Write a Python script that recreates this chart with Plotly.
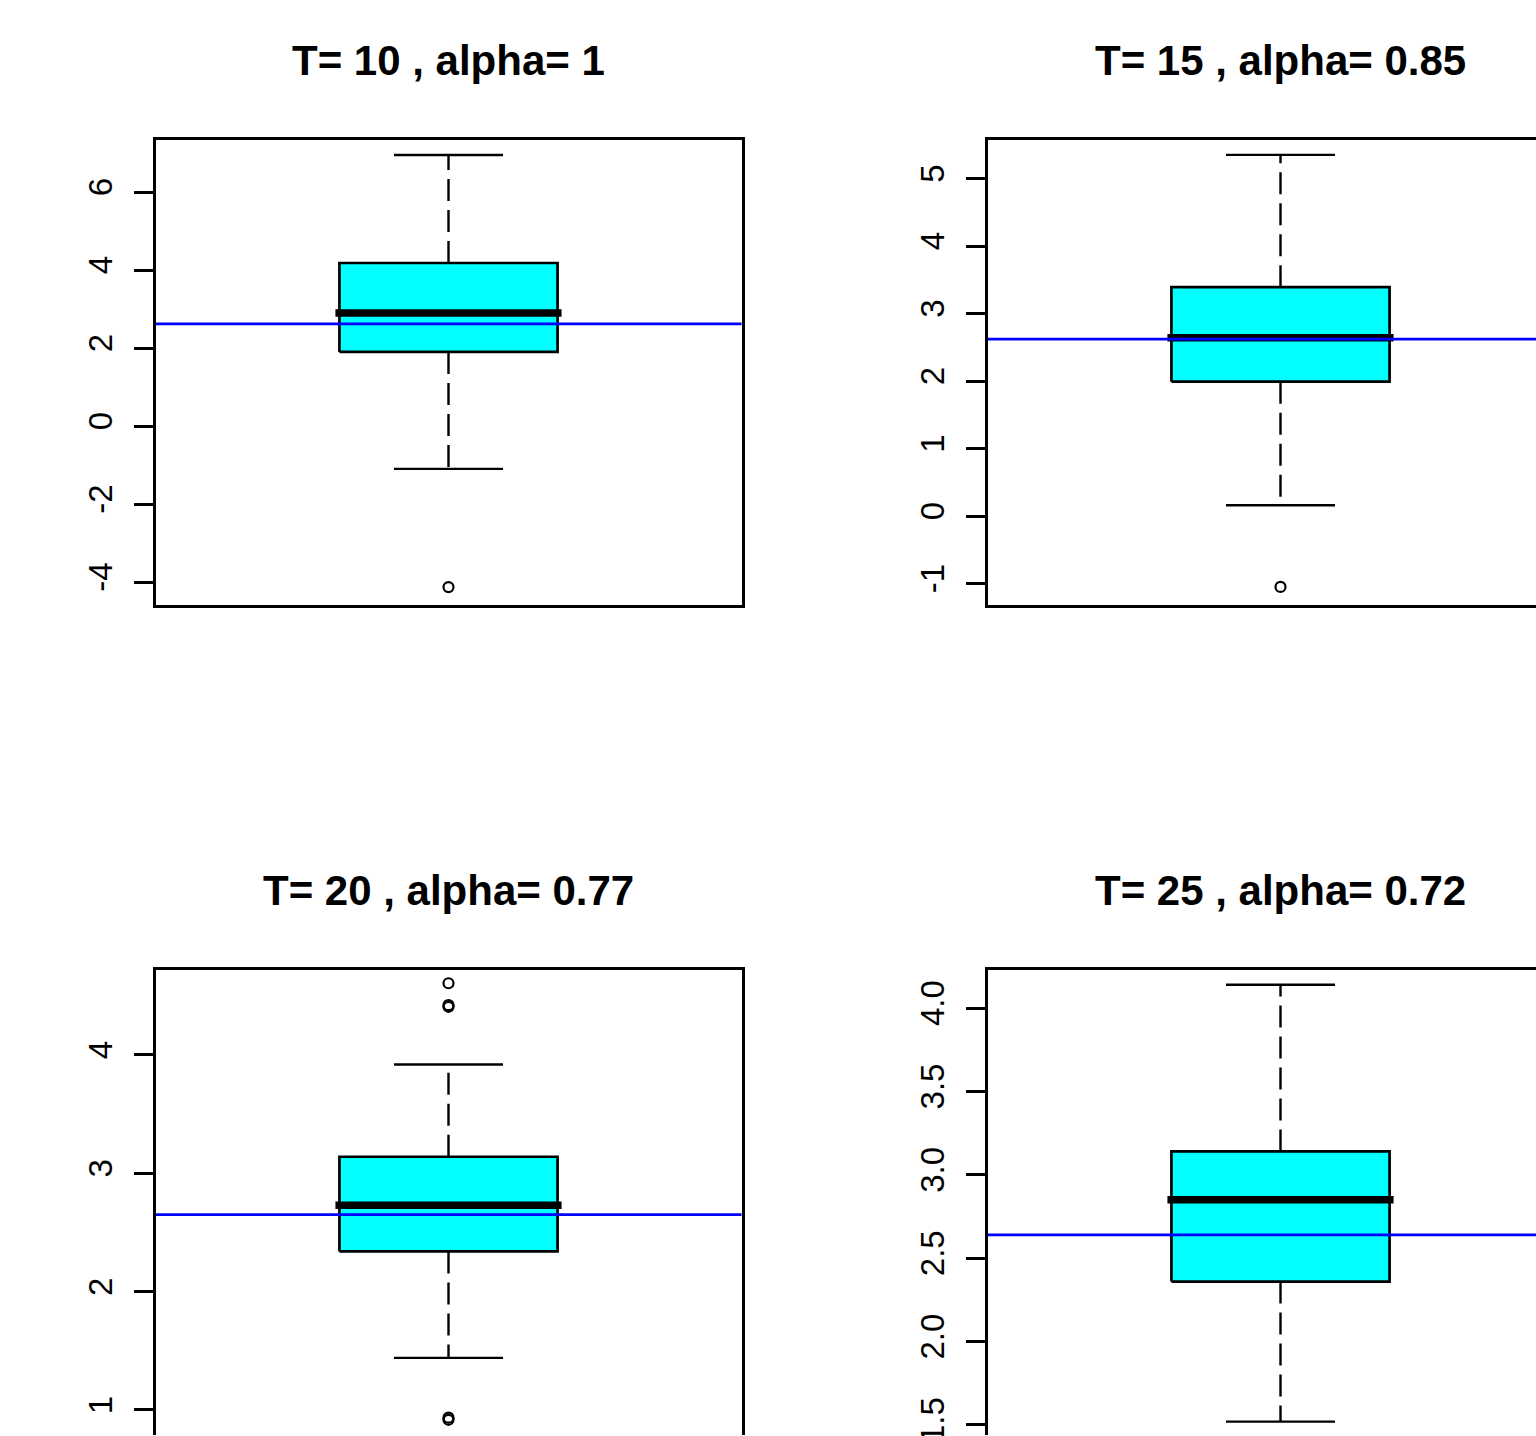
import plotly.graph_objects as go

# ---------------- data ----------------
titles = ["T= 10 , alpha= 1", "T= 15 , alpha= 0.85",
          "T= 20 , alpha= 0.77", "T= 25 , alpha= 0.72"]
upper_whisker = [6.95, 5.35, 3.92, 4.14]
q3_values = [4.18, 3.39, 3.14, 3.14]
median_values = [2.90, 2.64, 2.73, 2.85]
q1_values = [1.90, 1.99, 2.34, 2.36]
lower_whisker = [-1.10, 0.16, 1.44, 1.52]
outlier_values = [[-4.13], [-1.05], [4.606, 4.407, 4.421, 0.917, 0.935], []]
reference_line = [2.62, 2.62, 2.65, 2.64]
tick_vals = [[-4, -2, 0, 2, 4, 6],
             [-1, 0, 1, 2, 3, 4, 5],
             [1, 2, 3, 4],
             [1.5, 2.0, 2.5, 3.0, 3.5, 4.0]]
tick_text = [["-4", "-2", "0", "2", "4", "6"],
             ["-1", "0", "1", "2", "3", "4", "5"],
             ["1", "2", "3", "4"],
             ["1.5", "2.0", "2.5", "3.0", "3.5", "4.0"]]
y_ranges = [[-4.615, 7.385], [-1.333, 5.6], [0.78, 4.735], [1.434, 4.24]]

# ---------------- layout geometry (pixels) ----------------
W, H = 1536, 1436
PANEL_W = 589
PANEL_H = 468
px_left = [154, 986, 154, 986]
px_top = [138, 138, 968, 968]
title_y_px = [60, 60, 891, 891]
LW = 3.0                 # frame line width
INSET = LW / 2           # plotly draws axis lines just outside the domain

X_LO, X_HI = 0.46, 1.54  # R style x limits for a single box
CENTER = 1.0
BOX_HALF = 0.2
CAP_HALF = 0.1
px_per_x = PANEL_W / (X_HI - X_LO)
MED_EXT = 4 / px_per_x

FONT = "Liberation Sans, Arial, Helvetica, sans-serif"

fig = go.Figure()
layout = dict(
    width=W, height=H, autosize=False,
    margin=dict(l=0, r=0, t=0, b=0, pad=0),
    paper_bgcolor="white", plot_bgcolor="white",
    showlegend=False, template="none",
    annotations=[],
)

for i in range(4):
    sfx = "" if i == 0 else str(i + 1)
    xa, ya = "x" + sfx, "y" + sfx
    left = px_left[i]
    top = px_top[i]
    clipped_right = (left + PANEL_W) > W
    clipped_bottom = (top + PANEL_H) >= H

    # x: domain in pixels and matching range
    d_left = left + INSET
    d_right = min(left + PANEL_W - INSET, W)
    x_lo = X_LO + (d_left - left) / px_per_x
    x_hi = X_LO + (d_right - left) / px_per_x

    # y: domain in pixels and matching range
    y_bot_v, y_top_v = y_ranges[i]
    px_per_y = PANEL_H / (y_top_v - y_bot_v)
    d_top = top + INSET
    d_bottom = min(top + PANEL_H - INSET, H)
    r_top = y_top_v - (d_top - top) / px_per_y
    r_bot = y_top_v - (d_bottom - top) / px_per_y

    bl, br = CENTER - BOX_HALF, CENTER + BOX_HALF
    # box body
    fig.add_trace(go.Scatter(
        x=[bl, br, br, bl, bl],
        y=[q1_values[i], q1_values[i], q3_values[i], q3_values[i], q1_values[i]],
        mode="lines", fill="toself", fillcolor="#00FFFF",
        line=dict(color="black", width=2.7), xaxis=xa, yaxis=ya, hoverinfo="skip"))
    # whiskers (dashed)
    fig.add_trace(go.Scatter(
        x=[CENTER, CENTER, None, CENTER, CENTER],
        y=[q3_values[i], upper_whisker[i], None, q1_values[i], lower_whisker[i]],
        mode="lines", line=dict(color="black", width=2.4, dash="22px,9px"),
        xaxis=xa, yaxis=ya, hoverinfo="skip"))
    # staples
    fig.add_trace(go.Scatter(
        x=[CENTER - CAP_HALF, CENTER + CAP_HALF, None, CENTER - CAP_HALF, CENTER + CAP_HALF],
        y=[upper_whisker[i], upper_whisker[i], None, lower_whisker[i], lower_whisker[i]],
        mode="lines", line=dict(color="black", width=2.4),
        xaxis=xa, yaxis=ya, hoverinfo="skip"))
    # median
    fig.add_trace(go.Scatter(
        x=[bl - MED_EXT, br + MED_EXT], y=[median_values[i], median_values[i]],
        mode="lines", line=dict(color="black", width=7.5),
        xaxis=xa, yaxis=ya, hoverinfo="skip"))
    # outliers
    if outlier_values[i]:
        fig.add_trace(go.Scatter(
            x=[CENTER] * len(outlier_values[i]), y=outlier_values[i],
            mode="markers",
            marker=dict(symbol="circle-open", size=10, color="black",
                        line=dict(color="black", width=2.2)),
            xaxis=xa, yaxis=ya, hoverinfo="skip"))
    # reference line
    fig.add_trace(go.Scatter(
        x=[X_LO, X_HI], y=[reference_line[i], reference_line[i]],
        mode="lines", line=dict(color="#0000FF", width=2.7),
        xaxis=xa, yaxis=ya, hoverinfo="skip"))

    layout["xaxis" + sfx] = dict(
        domain=[d_left / W, d_right / W], range=[x_lo, x_hi], anchor=ya,
        showgrid=False, zeroline=False, showticklabels=False, ticks="",
        showline=True, linecolor="black", linewidth=LW,
        side="top" if clipped_bottom else "bottom",
        mirror=False if clipped_bottom else True,
        fixedrange=True, automargin=False)
    layout["yaxis" + sfx] = dict(
        domain=[1 - d_bottom / H, 1 - d_top / H], range=[r_bot, r_top], anchor=xa,
        showgrid=False, zeroline=False,
        tickmode="array", tickvals=tick_vals[i], ticktext=tick_text[i],
        ticks="outside", ticklen=19, tickwidth=2.5, tickcolor="black",
        tickangle=-90, ticklabelstandoff=8, ticklabeloverflow="allow",
        tickfont=dict(family=FONT, size=33, color="black"),
        showline=True, linecolor="black", linewidth=LW,
        mirror=False if clipped_right else True,
        fixedrange=True, automargin=False)

    layout["annotations"].append(dict(
        text="<b>" + titles[i] + "</b>", xref="paper", yref="paper",
        x=(left + PANEL_W / 2) / W, y=1 - title_y_px[i] / H,
        xanchor="center", yanchor="middle", showarrow=False,
        font=dict(family=FONT, size=42, color="black")))

fig.update_layout(**layout)
fig.write_html("out.html")
